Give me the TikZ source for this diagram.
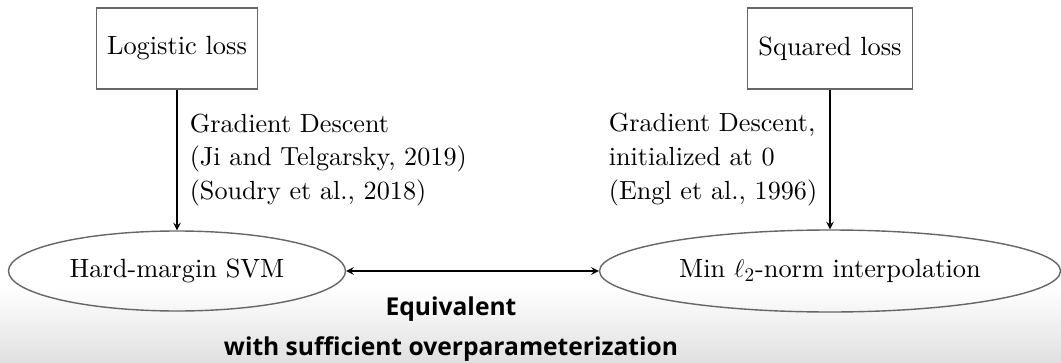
\documentclass[tikz,border=0pt]{standalone}
\usepackage{fontspec}
\setmainfont{lmroman10-regular}[Extension=.otf,BoldFont=lmroman10-bold,ItalicFont=lmroman10-italic]
\newfontfamily\bandfont{Open Sans}
\usepackage{tikz}
\tikzset{lossbox/.style={draw=black!60,line width=0.8pt,minimum width=3.22cm,minimum height=1.62cm,font=\fontsize{15}{19.3}\selectfont}}
\tikzset{goalell/.style={ellipse,draw=black!60,line width=0.8pt,inner sep=0pt,font=\fontsize{15}{19.3}\selectfont}}
\tikzset{gdnote/.style={align=left,inner xsep=0.24cm,font=\fontsize{14.9}{19.3}\selectfont}}
\tikzset{bandtext/.style={anchor=base,inner sep=0pt,font=\bandfont\bfseries\fontsize{14}{17}\selectfont}}
\usetikzlibrary{shapes.geometric,arrows}

\begin{document}
\begin{tikzpicture}[>=stealth]
  % grey band at the bottom
  \shade[top color=white,bottom color=black!12] (0,0) rectangle (21.22,1.5);
  \useasboundingbox (0,0) rectangle (21.22,7.24);
  \pgfsetlinewidth{0.9pt}

  \node [lossbox] (logistic) at (3.54,6.27) {Logistic loss};
  \node [lossbox,minimum width=3.3cm] (squared) at (16.6,6.27) {Squared loss};
  \node [goalell,minimum width=6.74cm,minimum height=1.6cm] (svm) at (3.54,1.82) {Hard-margin SVM};
  \node [goalell,minimum width=9.22cm,minimum height=1.64cm] (minnorm) at (16.6,1.82) {Min $\ell_2$-norm interpolation};

  \draw [->] (logistic) -- (svm)
    node [midway,right,gdnote] (gdlogistic) {Gradient Descent\\(Ji and Telgarsky, 2019)\\(Soudry et al., 2018)};
  \draw [->] (squared) -- (minnorm)
    node [midway,left,gdnote] (gdsquared) {Gradient Descent,\\initialized at 0\\(Engl et al., 1996)};
  \draw [<->] (svm) -- (minnorm);

  \node [bandtext] (equiv) at (9.02,0.94) {Equivalent};
  \node [bandtext] (overparam) at (9.02,0.14) {with sufficient overparameterization};
\end{tikzpicture}
\end{document}
